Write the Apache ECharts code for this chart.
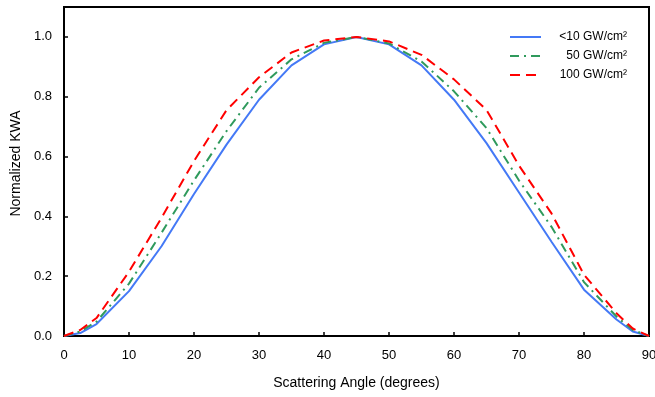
<!DOCTYPE html>
<html>
<head>
<meta charset="utf-8">
<script src="https://cdn.jsdelivr.net/npm/echarts@6/dist/echarts.min.js"></script>
<style>html,body{margin:0;padding:0;background:#fff}#c{width:655px;height:397px}</style>
</head>
<body>
<div id="c"></div>
<script>
var angles = [0, 2.5, 5, 10, 15, 20, 25, 30, 35, 40, 45, 50, 55, 60, 65, 70, 75, 80, 85, 87.5, 90];
var kwaLow = [0, 0.01, 0.04, 0.15, 0.30, 0.475, 0.64, 0.79, 0.905, 0.975, 1.0, 0.975, 0.905, 0.79, 0.645, 0.48, 0.315, 0.155, 0.055, 0.015, 0];
var kwa50 = [0, 0.015, 0.048, 0.175, 0.345, 0.52, 0.685, 0.83, 0.925, 0.98, 1.0, 0.978, 0.918, 0.818, 0.695, 0.52, 0.365, 0.18, 0.065, 0.02, 0];
var kwa100 = [0, 0.02, 0.06, 0.215, 0.395, 0.585, 0.755, 0.865, 0.948, 0.988, 1.0, 0.985, 0.94, 0.858, 0.756, 0.57, 0.41, 0.205, 0.076, 0.025, 0];
var seriesNames = ['<10 GW/cm²', ' 50 GW/cm²', '100 GW/cm²'];
var xTicks = [0, 10, 20, 30, 40, 50, 60, 70, 80, 90];
var yTicks = [0.0, 0.2, 0.4, 0.6, 0.8, 1.0];

function pairs(ys) { return angles.map(function (a, i) { return [a, ys[i]]; }); }

var FONT = 'Liberation Sans';
var chart = echarts.init(document.getElementById('c'));
chart.setOption({
  animation: false,
  backgroundColor: '#ffffff',
  grid: { left: 64, right: 6, top: 7, bottom: 61, show: true, borderColor: '#000', borderWidth: 2,
    containLabel: false, outerBoundsMode: 'none' },
  legend: {
    right: 23, top: 26, orient: 'vertical', itemWidth: 31, itemHeight: 10, itemGap: 7,
    data: seriesNames,
    itemStyle: { opacity: 0 },
    formatter: function (n) { return '{t|' + n + '}'; },
    textStyle: {
      fontFamily: FONT, fontSize: 12, color: '#000',
      rich: {
        t: { fontFamily: FONT, fontSize: 12, color: '#000', width: 81, align: 'right' }
      }
    }
  },
  xAxis: {
    type: 'value', min: 0, max: 90, interval: 10,
    name: 'Scattering Angle (degrees)', nameLocation: 'middle', nameGap: 40,
    nameTextStyle: { fontFamily: FONT, fontSize: 14, color: '#000' },
    axisLine: { show: true, lineStyle: { color: '#000', width: 2 } },
    axisTick: { show: true, inside: true, length: 4, lineStyle: { color: '#000', width: 1.5 } },
    axisLabel: { fontFamily: FONT, fontSize: 13, color: '#000', margin: 13,
      customValues: xTicks },
    splitLine: { show: false }
  },
  yAxis: {
    type: 'value', min: 0, max: 1.1, interval: 0.2,
    name: 'Normalized KWA', nameLocation: 'middle', nameGap: 35,
    nameTextStyle: { fontFamily: FONT, fontSize: 14, color: '#000', padding: [0, 0, 0, 16] },
    axisLine: { show: true, lineStyle: { color: '#000', width: 2 } },
    axisTick: { show: true, inside: true, length: 4, lineStyle: { color: '#000', width: 1.5 }, customValues: yTicks },
    axisLabel: { fontFamily: FONT, fontSize: 13, color: '#000', margin: 12, customValues: yTicks,
      formatter: function (v) { return v.toFixed(1); } },
    splitLine: { show: false }
  },
  series: [
    { name: seriesNames[0], type: 'line', data: pairs(kwaLow), showSymbol: false, symbol: 'none',
      lineStyle: { color: '#4479f6', width: 2, type: 'solid' }, itemStyle: { color: '#4479f6' }, z: 3 },
    { name: seriesNames[1], type: 'line', data: pairs(kwa50), showSymbol: false, symbol: 'none',
      lineStyle: { color: '#2f9a5c', width: 2, type: [9, 5, 2, 5] }, itemStyle: { color: '#2f9a5c' }, z: 4 },
    { name: seriesNames[2], type: 'line', data: pairs(kwa100), showSymbol: false, symbol: 'none',
      lineStyle: { color: '#ff0000', width: 2, type: [10, 6] }, itemStyle: { color: '#ff0000' }, z: 5 }
  ]
});
</script>
</body>
</html>
